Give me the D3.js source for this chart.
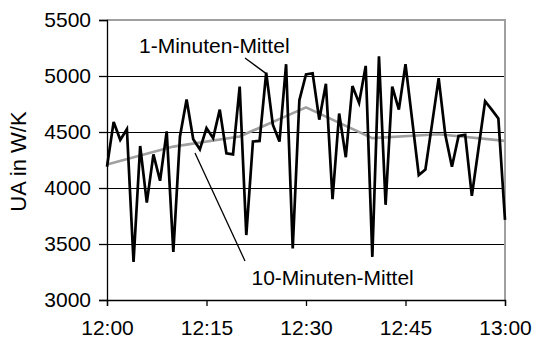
<!DOCTYPE html>
<meta charset="utf-8">
<style>
body { margin: 0; background: #fff; }
text { font-family: "Liberation Sans", Arial, sans-serif; fill: #000; }
.grid line { stroke: #000; stroke-width: 1px; }
.frame { stroke: #a0a0a0; stroke-width: 2px; fill: none; }
.axis path, .axis line { stroke: #000; stroke-width: 1.3px; }
.minute { fill: none; stroke: #000; stroke-width: 2.7px; stroke-linejoin: miter; }
.tenmin { fill: none; stroke: #a0a0a0; stroke-width: 2.7px; }
.leader { stroke: #000; stroke-width: 1.3px; }
</style>
<body>
<svg id="chart" width="535" height="345"></svg>
<script src="https://cdn.jsdelivr.net/npm/d3@7"></script>
<script>

// 1-Minuten-Mittel, 12:00 .. 13:00 (one value per minute)
var oneMinute = [4190, 4590, 4430, 4525, 3340, 4375, 3870, 4300, 4065, 4505,
                 3430, 4460, 4790, 4435, 4345, 4535, 4445, 4700, 4310, 4300,
                 4905, 3580, 4415, 4420, 5030, 4565, 4415, 5105, 3460, 4785,
                 5015, 5025, 4610, 4930, 3900, 4665, 4275, 4910, 4760, 5090,
                 3385, 5175, 3850, 4905, 4700, 5105, 4610, 4115, 4165, 4570,
                 4980, 4475, 4190, 4465, 4475, 3930, 4350, 4775, 4700, 4620,
                 3715];

// 10-Minuten-Mittel at 12:00, 12:10, ... 13:00
var tenMinute = [4210, 4370, 4460, 4720, 4445, 4480, 4420];

var xTicks = [0, 15, 30, 45, 60];
var xTickLabels = ["12:00", "12:15", "12:30", "12:45", "13:00"];
var yTicks = [3000, 3500, 4000, 4500, 5000, 5500];

var plotL = 107, plotR = 505, plotT = 20, plotB = 300;

var svg = d3.select("#chart");

var x = d3.scaleLinear().domain([0, 60]).range([plotL, plotR]);
var y = d3.scaleLinear().domain([3000, 5500]).range([plotB, plotT]);

// gridlines
svg.append("g").attr("class", "grid")
  .selectAll("line")
  .data(yTicks.filter(function(d) { return d > 3000 && d < 5500; }))
  .enter().append("line")
    .attr("x1", plotL).attr("x2", plotR)
    .attr("y1", function(d) { return Math.round(y(d)) + 0.5; })
    .attr("y2", function(d) { return Math.round(y(d)) + 0.5; });

// plot area frame (top + right in grey)
svg.append("path")
  .attr("class", "frame")
  .attr("d", "M" + plotL + "," + plotT + "H" + plotR + "V" + plotB);

// lines
var line = d3.line()
  .x(function(d, i) { return x(i); })
  .y(function(d) { return y(d); });

var line10 = d3.line()
  .x(function(d, i) { return x(i * 10); })
  .y(function(d) { return y(d); });

svg.append("path").datum(tenMinute).attr("class", "tenmin").attr("d", line10);
svg.append("path").datum(oneMinute).attr("class", "minute").attr("d", line);

// axes
var yAxis = svg.append("g").attr("class", "axis")
  .attr("transform", "translate(" + plotL + ",0)")
  .call(d3.axisLeft(y).tickValues(yTicks).tickSizeOuter(0).tickSize(8).tickPadding(8)
    .tickFormat(d3.format("d")));

var xAxis = svg.append("g").attr("class", "axis")
  .attr("transform", "translate(0," + plotB + ")")
  .call(d3.axisBottom(x).tickValues(xTicks).tickSizeOuter(0).tickSize(6).tickPadding(14)
    .tickFormat(function(d, i) { return xTickLabels[i]; }));

svg.selectAll(".axis").attr("font-family", null).attr("font-size", null);
svg.selectAll(".axis text").style("font-size", "21px");

// y axis title
svg.append("text")
  .attr("transform", "translate(25.5,161.5) rotate(-90)")
  .attr("text-anchor", "middle")
  .style("font-size", "22px")
  .text("UA in W/K");

// annotations
svg.append("text")
  .attr("x", 139).attr("y", 52.5)
  .style("font-size", "21px")
  .text("1-Minuten-Mittel");

svg.append("line").attr("class", "leader")
  .attr("x1", 245).attr("y1", 58)
  .attr("x2", x(24)).attr("y2", y(oneMinute[24]) + 1);

svg.append("text")
  .attr("x", 251.5).attr("y", 285)
  .style("font-size", "21px")
  .text("10-Minuten-Mittel");

svg.append("line").attr("class", "leader")
  .attr("x1", 195).attr("y1", 153)
  .attr("x2", 245).attr("y2", 261);

</script>
</body>
</html>
